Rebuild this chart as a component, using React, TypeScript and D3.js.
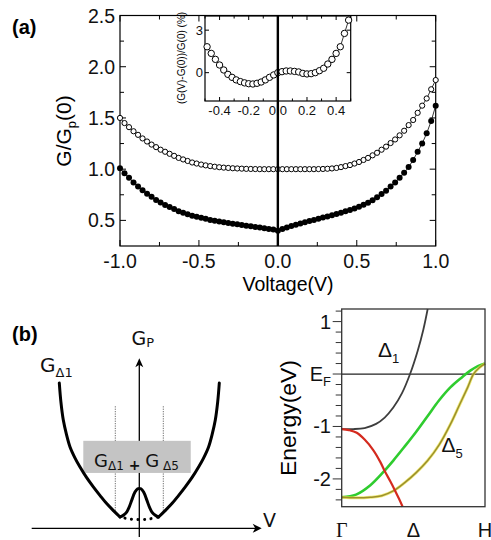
import React from 'react';
import * as d3 from 'd3';

const W = 491;
const H = 540;

// ---------- panel (a): G/Gp(0) vs voltage ----------
const voltages = d3.range(71).map(i => -1 + (i * 2) / 70);

const openG = [
  1.50, 1.45, 1.41, 1.37, 1.335, 1.30, 1.27, 1.24, 1.215, 1.19,
  1.17, 1.15, 1.13, 1.11, 1.095, 1.08, 1.065, 1.055, 1.045, 1.037,
  1.03, 1.024, 1.019, 1.015, 1.012, 1.009, 1.007, 1.005, 1.003, 1.002,
  1.001, 1.0, 1.0, 1.0, 1.0, 1.0, 1.0, 1.0, 1.0, 1.0,
  1.0, 1.0, 1.0, 1.0, 1.001, 1.002, 1.004, 1.007, 1.012, 1.02,
  1.03, 1.04, 1.055, 1.07, 1.09, 1.11, 1.135, 1.16, 1.19, 1.22,
  1.255, 1.29, 1.33, 1.375, 1.43, 1.48, 1.55, 1.62, 1.69, 1.78,
  1.87,
];

const solidG = [
  1.01, 0.96, 0.915, 0.87, 0.83, 0.795, 0.76, 0.73, 0.70, 0.675,
  0.65, 0.63, 0.61, 0.59, 0.575, 0.56, 0.545, 0.535, 0.525, 0.515,
  0.505, 0.497, 0.49, 0.482, 0.475, 0.468, 0.462, 0.455, 0.448, 0.442,
  0.436, 0.43, 0.423, 0.416, 0.41, 0.40, 0.415, 0.43, 0.445, 0.458,
  0.47, 0.482, 0.494, 0.505, 0.516, 0.527, 0.538, 0.55, 0.562, 0.575,
  0.588, 0.602, 0.617, 0.633, 0.652, 0.673, 0.697, 0.725, 0.757, 0.79,
  0.83, 0.87, 0.915, 0.965, 1.02, 1.09, 1.17, 1.25, 1.35, 1.47,
  1.62,
];

// inset: (G(V)-G(0))/G(0) in %
const insetV = d3.range(35).map(i => ((i - 17) * 2) / 70);
const insetPct = [
  1.83, 1.36, 0.94, 0.54, 0.19, -0.12, -0.33, -0.51, -0.63, -0.72,
  -0.78, -0.80, -0.75, -0.66, -0.51, -0.33, -0.16, 0.0, 0.07, 0.12,
  0.12, 0.09, 0.05, -0.05, -0.09, -0.07, 0.0, 0.14, 0.31, 0.61,
  0.94, 1.36, 1.83, 2.77, 3.71,
];

const mainXMajor = [-1, -0.5, 0, 0.5, 1];
const mainXMinor = [-0.75, -0.25, 0.25, 0.75];
const mainYMajor = [0.5, 1, 1.5, 2, 2.5];
const mainYMinor = [0.75, 1.25, 1.75, 2.25];
const insetXMajor = [-0.4, -0.2, 0, 0.2, 0.4];
const insetXMinor = [-0.5, -0.3, -0.1, 0.1, 0.3, 0.5];
const insetYMajor = [0, 3];

// ---------- panel (b) left: schematic G_P(V) ----------
const armV = [-1.0, -0.98, -0.95, -0.91, -0.866, -0.80, -0.741, -0.66, -0.575, -0.49, -0.408, -0.32, -0.241];
const armG = [1.0, 0.87, 0.745, 0.645, 0.56, 0.48, 0.422, 0.35, 0.285, 0.225, 0.17, 0.12, 0.078];
const bumpV = [-0.241, -0.2, -0.158, -0.12, -0.095, -0.054, -0.02, 0, 0.02, 0.054, 0.095, 0.12, 0.158, 0.2, 0.241];
const bumpG = [0.078, 0.09, 0.112, 0.155, 0.193, 0.25, 0.272, 0.274, 0.272, 0.25, 0.193, 0.155, 0.112, 0.09, 0.078];
const hiddenV = [-0.241, -0.12, 0, 0.12, 0.241];
const hiddenG = [0.078, 0.064, 0.06, 0.064, 0.078];
const guideV = [-0.3, 0.3];

// ---------- panel (b) right: band structure ----------
const bandYMajor = [1, 0, -1, -2];
const bandYMinor = [1.2, 0.8, 0.6, 0.4, 0.2, -0.2, -0.4, -0.6, -0.8, -1.2, -1.4, -1.6, -1.8, -2.2, -2.4];
const kLabels = ['Γ', 'Δ', 'H'];
const kPos = [0, 0.5, 1];

const d1K = [0, 0.08, 0.16, 0.24, 0.30, 0.36, 0.42, 0.477, 0.53, 0.57, 0.6];
const d1E = [-1.05, -1.05, -1.03, -0.95, -0.83, -0.64, -0.37, 0, 0.44, 0.85, 1.24];
const redK = [0, 0.05, 0.105, 0.16, 0.22, 0.27, 0.3, 0.34, 0.37, 0.4, 0.425];
const redE = [-1.05, -1.07, -1.12, -1.25, -1.45, -1.68, -1.85, -2.05, -2.21, -2.38, -2.53];
const greenK = [0, 0.1, 0.2, 0.28, 0.36, 0.44, 0.52, 0.6, 0.68, 0.76, 0.84, 0.9, 0.95, 1.0];
const greenE = [-2.35, -2.3, -2.12, -1.9, -1.65, -1.38, -1.1, -0.8, -0.5, -0.25, -0.06, 0.07, 0.15, 0.2];
const yellowK = [0, 0.1, 0.2, 0.28, 0.36, 0.44, 0.52, 0.6, 0.68, 0.76, 0.82, 0.88, 0.92, 0.96, 1.0];
const yellowE = [-2.35, -2.36, -2.35, -2.32, -2.23, -2.07, -1.88, -1.65, -1.35, -0.95, -0.6, -0.25, 0.0, 0.12, 0.2];

const SANS = 'Liberation Sans, Arial, sans-serif';
const VERD = 'DejaVu Sans, Verdana, sans-serif';

export default function App() {
  // main scales
  const x = d3.scaleLinear().domain([-1, 1]).range([120, 435.7]);
  const y = d3.scaleLinear().domain([0.25, 2.5]).range([246, 15.5]);
  // inset scales
  const ix = d3.scaleLinear().domain([-0.5, 0.5]).range([205, 350.7]);
  const iy = d3.scaleLinear().domain([-2, 4]).range([101, 16]);
  // schematic scales
  const sx = d3.scaleLinear().domain([-1, 1]).range([59.3, 219.3]);
  const sy = d3.scaleLinear().domain([0, 1]).range([528.3, 383]);
  // band scales
  const bx = d3.scaleLinear().domain([0, 1]).range([341.7, 485]);
  const by = d3.scaleLinear().domain([-2.53, 1.24]).range([506.7, 309]);

  const mainLine = d3.line<number>().x((_, i) => x(voltages[i])).y(d => y(d));
  const insetLine = d3.line<number>().x((_, i) => ix(insetV[i])).y(d => iy(d));
  const sk = (vs: number[]) =>
    d3.line<number>().x((_, i) => sx(vs[i])).y(d => sy(d)).curve(d3.curveCatmullRom.alpha(0.5));
  const band = (ks: number[]) =>
    d3.line<number>().x((_, i) => bx(ks[i])).y(d => by(d)).curve(d3.curveCatmullRom.alpha(0.5));

  const armRightV = armV.map(v => -v).reverse();
  const armRightG = armG.slice().reverse();

  return (
    <svg width={W} height={H} style={{ position: 'absolute', left: 0, top: 0, display: 'block', background: '#fff' }}>
      {/* ================= panel (a) ================= */}
      <text x={12} y={34} fontFamily={SANS} fontWeight="bold" fontSize={20}>(a)</text>

      {/* main ticks */}
      <g stroke="#000" strokeWidth={1}>
        {mainXMajor.map(v => (
          <g key={'xM' + v}>
            <line x1={x(v)} x2={x(v)} y1={246} y2={240} />
            <line x1={x(v)} x2={x(v)} y1={15.5} y2={21.5} />
          </g>
        ))}
        {mainXMinor.map(v => (
          <g key={'xm' + v}>
            <line x1={x(v)} x2={x(v)} y1={246} y2={242} />
            <line x1={x(v)} x2={x(v)} y1={15.5} y2={19.5} />
          </g>
        ))}
        {mainYMajor.map(v => (
          <g key={'yM' + v}>
            <line x1={120} x2={126} y1={y(v)} y2={y(v)} />
            <line x1={435.7} x2={429.7} y1={y(v)} y2={y(v)} />
          </g>
        ))}
        {mainYMinor.map(v => (
          <g key={'ym' + v}>
            <line x1={120} x2={124} y1={y(v)} y2={y(v)} />
            <line x1={435.7} x2={431.7} y1={y(v)} y2={y(v)} />
          </g>
        ))}
      </g>
      <rect x={120} y={15.5} width={315.7} height={230.5} fill="none" stroke="#000" strokeWidth={1.2} />

      {/* tick labels */}
      <g fontFamily={SANS} fontSize={19.5} fill="#111">
        {mainXMajor.map(v => (
          <text key={'xl' + v} x={x(v)} y={267.5} textAnchor="middle">{v.toFixed(1)}</text>
        ))}
        {mainYMajor.map(v => (
          <text key={'yl' + v} x={115} y={y(v) + 7} textAnchor="end">{v.toFixed(1)}</text>
        ))}
      </g>
      <text x={288} y={291} textAnchor="middle" fontFamily={SANS} fontSize={19.5}>Voltage(V)</text>
      <text transform="translate(71,131) rotate(-90)" textAnchor="middle" fontFamily={SANS} fontSize={21}>
        G/G<tspan fontSize={13} dy={5}>p</tspan><tspan dy={-5}>(0)</tspan>
      </text>

      {/* data */}
      <path d={mainLine(openG) || ''} fill="none" stroke="#000" strokeWidth={0.8} />
      <path d={mainLine(solidG) || ''} fill="none" stroke="#000" strokeWidth={0.8} />
      {openG.map((g, i) => (
        <circle key={'o' + i} cx={x(voltages[i])} cy={y(g)} r={2.6} fill="#fff" stroke="#000" strokeWidth={1} />
      ))}
      {solidG.map((g, i) => (
        <circle key={'s' + i} cx={x(voltages[i])} cy={y(g)} r={3} fill="#000" />
      ))}

      {/* inset */}
      <rect x={205} y={16} width={145.7} height={85} fill="#fff" stroke="#000" strokeWidth={1.2} />
      <g stroke="#000" strokeWidth={1}>
        {insetXMajor.map(v => (
          <g key={'ixM' + v}>
            <line x1={ix(v)} x2={ix(v)} y1={101} y2={97} />
            <line x1={ix(v)} x2={ix(v)} y1={16} y2={20} />
          </g>
        ))}
        {insetXMinor.map(v => (
          <g key={'ixm' + v}>
            <line x1={ix(v)} x2={ix(v)} y1={101} y2={98.5} />
            <line x1={ix(v)} x2={ix(v)} y1={16} y2={18.5} />
          </g>
        ))}
        {insetYMajor.map(v => (
          <g key={'iyM' + v}>
            <line x1={205} x2={209} y1={iy(v)} y2={iy(v)} />
            <line x1={350.7} x2={346.7} y1={iy(v)} y2={iy(v)} />
          </g>
        ))}
      </g>
      <g fontFamily={SANS} fontSize={13} fill="#111">
        {insetXMajor.map(v => (
          <text key={'ixl' + v} x={ix(v)} y={115} textAnchor="middle">{v === 0 ? '0.0' : v.toFixed(1)}</text>
        ))}
        {insetYMajor.map(v => (
          <text key={'iyl' + v} x={203} y={iy(v) + 4.5} textAnchor="end">{v}</text>
        ))}
      </g>
      <text transform="translate(185,58) rotate(-90)" textAnchor="middle" fontFamily={SANS} fontSize={10}>
        (G(V)-G(0))/G(0) (%)
      </text>
      <path d={insetLine(insetPct) || ''} fill="none" stroke="#000" strokeWidth={0.8} />
      {insetPct.map((p, i) => (
        <circle key={'in' + i} cx={ix(insetV[i])} cy={iy(p)} r={3.2} fill="#fff" stroke="#000" strokeWidth={1} />
      ))}

      {/* zero-bias line */}
      <line x1={x(0)} x2={x(0)} y1={15.5} y2={246} stroke="#000" strokeWidth={2.4} />

      {/* ================= panel (b) schematic ================= */}
      <text x={12} y={341} fontFamily={SANS} fontWeight="bold" fontSize={20}>(b)</text>

      {/* axes */}
      <line x1={sx(-1.345)} x2={sx(1.5)} y1={sy(0)} y2={sy(0)} stroke="#000" strokeWidth={1.3} />
      <path d={`M${sx(1.53)},${sy(0)} l-9,-4.5 l2.5,4.5 l-2.5,4.5 Z`} fill="#000" />
      <line x1={sx(0)} x2={sx(0)} y1={sy(-0.06)} y2={sy(1.15)} stroke="#000" strokeWidth={1.3} />
      <path d={`M${sx(0)},${sy(1.17)} l-4,9 l4,-2.5 l4,2.5 Z`} fill="#000" />

      {/* guides */}
      {guideV.map(v => (
        <line key={'g' + v} x1={sx(v)} x2={sx(v)} y1={sy(0.84)} y2={sy(0.1)} stroke="#444" strokeWidth={0.8} strokeDasharray="1.2,1.2" />
      ))}

      {/* gray box */}
      <rect x={sx(-0.7)} y={sy(0.602)} width={sx(0.643) - sx(-0.7)} height={sy(0.381) - sy(0.602)} fill="#c4c4c4" />
      <text x={94} y={466.7} fontFamily={VERD} fontSize={18} fill="#111">
        G<tspan fontSize={12} dy={3}>Δ1</tspan>
        <tspan fontSize={14} dy={0} fontWeight="bold"> + </tspan>
        <tspan fontSize={18} dy={-3}>G</tspan>
        <tspan fontSize={12} dy={3}> Δ5</tspan>
      </text>

      {/* curves */}
      <g fill="none" stroke="#000" strokeWidth={3} strokeLinecap="round" strokeLinejoin="round">
        <path d={sk(armV)(armG) || ''} />
        <path d={sk(bumpV)(bumpG) || ''} />
        <path d={sk(armRightV)(armRightG) || ''} />
      </g>
      <path d={sk(hiddenV)(hiddenG) || ''} fill="none" stroke="#000" strokeWidth={3} strokeLinecap="round" strokeDasharray="0.1,6.5" strokeDashoffset={-5} />

      {/* labels */}
      <text x={40} y={372} fontFamily={VERD} fontSize={20} fill="#111">
        G<tspan fontSize={13} dy={5}>Δ1</tspan>
      </text>
      <text x={131.5} y={345} fontFamily={VERD} fontSize={19} fill="#111">
        G<tspan fontSize={13} dy={2}>P</tspan>
      </text>
      <text x={263} y={527} fontFamily={VERD} fontSize={19} fill="#111">V</text>

      {/* ================= panel (b) band structure ================= */}
      <g stroke="#333" strokeWidth={1}>
        {bandYMajor.map(v => (
          <line key={'bM' + v} x1={bx(0) - 9} x2={bx(0)} y1={by(v)} y2={by(v)} />
        ))}
        {bandYMinor.map(v => (
          <line key={'bm' + v} x1={bx(0) - 6} x2={bx(0)} y1={by(v)} y2={by(v)} />
        ))}
      </g>
      <line x1={bx(0)} x2={bx(1)} y1={by(0)} y2={by(0)} stroke="#222" strokeWidth={1.2} />

      <path d={band(d1K)(d1E) || ''} fill="none" stroke="#3d3d3d" strokeWidth={1.8} />
      <path d={band(greenK)(greenE) || ''} fill="none" stroke="#2fcc2f" strokeWidth={2.6} />
      <path d={band(yellowK)(yellowE) || ''} fill="none" stroke="#e6df3a" strokeWidth={3} opacity={0.7} />
      <path d={band(yellowK)(yellowE) || ''} fill="none" stroke="#9c8f2c" strokeWidth={1.5} />
      <path d={band(redK)(redE) || ''} fill="none" stroke="#d42a1e" strokeWidth={2.2} />

      <rect x={bx(0)} y={by(1.24)} width={bx(1) - bx(0)} height={by(-2.53) - by(1.24)} fill="none" stroke="#333" strokeWidth={1.3} />

      <g fontFamily={SANS} fontSize={20} fill="#111">
        {bandYMajor.map(v => (
          <text key={'bl' + v} x={331} y={by(v) + 7} textAnchor="end">
            {v === 0 ? (
              <>E<tspan fontSize={13} dy={5}>F</tspan></>
            ) : (
              String(v)
            )}
          </text>
        ))}
      </g>
      <text transform="translate(296,418) rotate(-90)" textAnchor="middle" fontFamily={SANS} fontSize={22} textLength={116} lengthAdjust="spacingAndGlyphs">Energy(eV)</text>

      {kLabels.map((t, i) => (
        <text key={'k' + t} x={bx(kPos[i])} y={537} textAnchor="middle" fontFamily={t === 'Γ' ? 'Liberation Serif, serif' : SANS} fontSize={20} fill="#111">
          {t}
        </text>
      ))}

      <text x={378} y={357} fontFamily={SANS} fontSize={21} fill="#111">
        Δ<tspan fontSize={13} dy={6}>1</tspan>
      </text>
      <text x={441.5} y={452} fontFamily={SANS} fontSize={21} fill="#111">
        Δ<tspan fontSize={13} dy={6}>5</tspan>
      </text>
    </svg>
  );
}
